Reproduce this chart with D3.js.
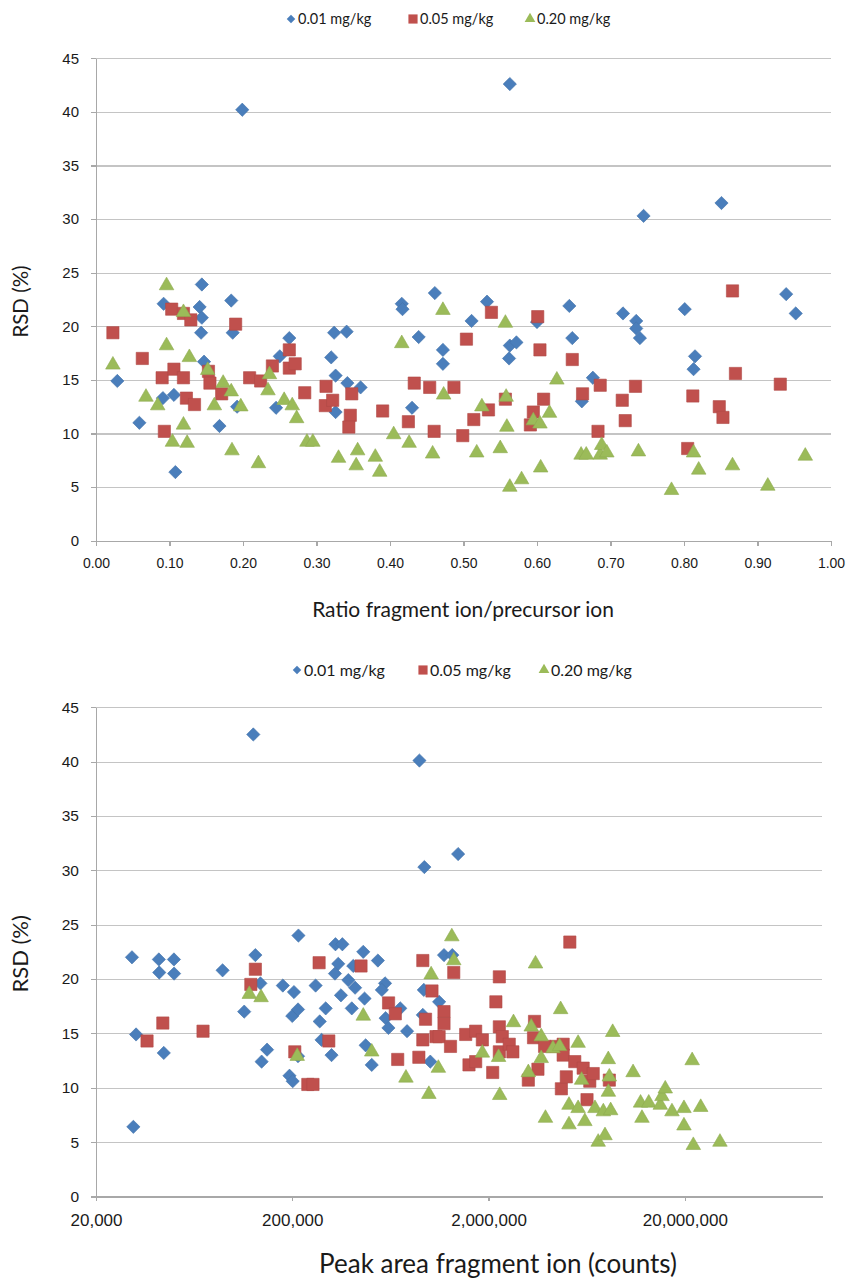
<!DOCTYPE html>
<html>
<head>
<meta charset="utf-8">
<script src="https://d3js.org/d3.v7.min.js"></script>
<style>
    body { margin: 0; background: #fff; }
    svg { display: block; }
    .grid line { stroke: #c4c4c4; stroke-width: 1.2px; shape-rendering: crispEdges; }
    .axis path, .axis line { stroke: #a8a8a8; stroke-width: 1.2px; shape-rendering: crispEdges; }
    .axis text { fill: #1a1a1a; }
    .title { fill: #1a1a1a; }
    .legend text { fill: #1a1a1a; }
</style>
</head>
<body>
<svg width="849" height="1279"></svg>
<script>
    // series names and colours
    const seriesNames = ["0.01 mg/kg", "0.05 mg/kg", "0.20 mg/kg"];
    const seriesColors = ["#4a7ebb", "#c0504d", "#9bbb59"];

    // top panel: ratio fragment ion/precursor ion vs RSD (%)
    const ratioTicks = [0, 0.1, 0.2, 0.3, 0.4, 0.5, 0.6, 0.7, 0.8, 0.9, 1.0];
    const rsdTicks = [0, 5, 10, 15, 20, 25, 30, 35, 40, 45];

    const ratio001 = [
        [0.029,14.9],[0.059,11.0],[0.092,22.1],[0.091,13.3],[0.106,13.6],[0.108,6.4],[0.144,23.9],[0.141,21.8],
        [0.144,20.8],[0.143,19.4],[0.147,16.7],[0.168,10.7],[0.184,22.4],[0.186,19.4],[0.192,12.5],[0.199,40.2],
        [0.245,12.4],[0.25,17.2],[0.263,18.9],[0.32,17.1],[0.324,19.4],[0.341,19.5],[0.326,15.4],[0.326,12.0],
        [0.342,14.7],[0.36,14.3],[0.416,22.1],[0.417,21.6],[0.439,19.0],[0.43,12.4],[0.461,23.1],[0.472,17.8],
        [0.472,16.5],[0.511,20.5],[0.532,22.3],[0.562,17.0],[0.563,18.2],[0.572,18.5],[0.563,42.6],[0.6,20.4],
        [0.644,21.9],[0.648,18.9],[0.661,13.0],[0.676,15.2],[0.717,21.2],[0.735,20.5],[0.735,19.8],[0.74,18.9],
        [0.745,30.3],[0.801,21.6],[0.813,16.0],[0.815,17.2],[0.851,31.5],[0.939,23.0],[0.952,21.2]
    ];
    const ratio005 = [
        [0.023,19.4],[0.063,17.0],[0.09,15.2],[0.093,10.2],[0.103,21.6],[0.106,16.0],[0.119,15.2],[0.119,21.2],
        [0.129,20.6],[0.123,13.3],[0.134,12.7],[0.153,15.8],[0.155,14.7],[0.171,13.7],[0.19,20.2],[0.209,15.2],
        [0.224,14.9],[0.24,16.3],[0.263,17.8],[0.263,16.1],[0.271,16.5],[0.284,13.8],[0.313,14.4],[0.312,12.6],
        [0.322,13.1],[0.348,13.7],[0.346,11.7],[0.344,10.6],[0.39,12.1],[0.425,11.1],[0.433,14.7],[0.454,14.3],
        [0.46,10.2],[0.487,14.3],[0.499,9.8],[0.504,18.8],[0.514,11.3],[0.534,12.2],[0.538,21.3],[0.557,13.2],
        [0.591,10.8],[0.595,12.0],[0.601,20.9],[0.604,17.8],[0.609,13.2],[0.648,16.9],[0.662,13.7],[0.683,10.2],
        [0.686,14.5],[0.716,13.1],[0.72,11.2],[0.734,14.4],[0.805,8.6],[0.812,13.5],[0.848,12.5],[0.853,11.5],
        [0.866,23.3],[0.87,15.6],[0.931,14.6]
    ];
    const ratio020 = [
        [0.023,16.4],[0.068,13.4],[0.084,12.6],[0.096,23.8],[0.096,18.2],[0.104,9.2],[0.119,21.3],[0.119,10.8],
        [0.124,9.1],[0.127,17.1],[0.152,15.9],[0.161,12.6],[0.173,14.7],[0.184,13.9],[0.185,8.4],[0.197,12.5],
        [0.221,7.2],[0.236,15.5],[0.234,14.0],[0.256,13.1],[0.267,12.6],[0.273,11.4],[0.287,9.2],[0.295,9.2],
        [0.33,7.7],[0.356,8.4],[0.354,7.0],[0.38,7.8],[0.386,6.4],[0.405,9.9],[0.416,18.4],[0.426,9.1],
        [0.458,8.1],[0.472,21.5],[0.473,13.6],[0.518,8.2],[0.525,12.5],[0.55,8.6],[0.557,20.3],[0.558,13.4],
        [0.559,10.6],[0.563,5.0],[0.579,5.7],[0.595,11.2],[0.604,10.9],[0.605,6.8],[0.617,11.9],[0.627,15.0],
        [0.66,8.0],[0.667,8.0],[0.686,8.0],[0.688,8.9],[0.695,8.2],[0.738,8.3],[0.783,4.7],[0.813,8.2],
        [0.82,6.6],[0.866,7.0],[0.914,5.1],[0.965,7.9]
    ];

    // bottom panel: peak area fragment ion (counts) vs RSD (%)
    const areaTicks = [20000, 200000, 2000000, 20000000];

    const area001 = [
        [30500,22.0],[32000,14.9],[31000,6.4],[41800,21.8],[49900,21.8],[42000,20.6],[50000,20.5],[44300,13.2],
        [88300,20.8],[126600,42.5],[129700,22.2],[137600,19.6],[113800,17.0],[148800,13.5],[139600,12.4],
        [179000,19.4],[204000,18.8],[200000,16.6],[214000,17.2],[193600,11.1],[201000,10.6],[214000,12.9],
        [215000,24.0],[263000,19.4],[296000,17.3],[276000,16.1],[282000,14.4],[317000,13.0],[332000,23.2],
        [360000,23.2],[343000,21.4],[330000,20.5],[409000,21.2],[386000,19.9],[418000,19.2],[354000,18.5],
        [402000,17.3],[460000,22.5],[467000,18.2],[473000,13.9],[508000,12.1],[546000,21.7],[594000,19.6],
        [572000,19.0],[710000,17.3],[598000,16.4],[618000,15.5],[769000,15.2],[889000,40.1],[942000,30.3],
        [936000,19.0],[925000,16.7],[1010000,12.4],[1186000,22.2],[1307000,22.2],[1120000,17.9],[1400000,31.5]
    ];
    const area005 = [
        [36400,14.3],[43800,15.95],[70200,15.2],[123000,19.5],[129700,20.9],[206000,13.3],[240000,10.3],
        [255000,10.3],[274000,21.5],[307000,14.3],[448000,21.2],[619000,17.8],[670000,16.8],[689000,12.6],
        [883000,12.8],[925000,21.7],[925000,14.4],[955000,16.3],[1030000,18.9],[1080000,14.7],[1186000,17.0],
        [1186000,15.9],[1120000,14.7],[1280000,13.8],[1330000,20.6],[1530000,14.9],[1720000,15.2],[1590000,12.1],
        [1720000,12.4],[1860000,14.4],[2100000,11.4],[2180000,17.9],[2270000,20.2],[2270000,15.6],[2350000,14.7],
        [2270000,13.3],[2550000,14.0],[2660000,13.3],[3190000,10.7],[3390000,14.6],[3430000,16.1],[3570000,11.7],
        [3860000,13.8],[4430000,13.8],[4700000,9.9],[4800000,14.0],[4800000,13.0],[4980000,11.0],[5190000,23.4],
        [5500000,12.4],[6070000,11.8],[6350000,8.9],[6560000,10.6],[6830000,11.3],[8250000,10.7]
    ];
    const area020 = [
        [120800,18.6],[138700,18.3],[212000,12.9],[460000,16.6],[508000,13.3],[759000,10.9],[993000,9.4],
        [1020000,20.4],[1110000,11.8],[1300000,23.9],[1330000,21.7],[1860000,13.2],[2250000,12.8],[2280000,9.3],
        [2680000,16.0],[3190000,11.4],[3300000,15.6],[3470000,21.4],[3710000,14.7],[3710000,12.7],[3900000,7.2],
        [4260000,13.6],[4600000,13.8],[4660000,17.2],[5140000,8.4],[5140000,6.6],[5720000,14.1],[5720000,8.1],
        [5960000,10.7],[6190000,6.9],[6970000,8.1],[7240000,5.0],[7690000,7.8],[7840000,5.6],[8150000,12.6],
        [8160000,9.6],[8250000,11.0],[8380000,7.9],[8580000,15.1],[10900000,11.4],[11900000,8.6],[12100000,7.2],
        [13100000,8.6],[15000000,8.4],[15300000,9.2],[15900000,9.9],[17200000,7.8],[19800000,8.1],[19800000,6.5],
        [21800000,12.5],[22100000,4.7],[24100000,8.2],[30200000,5.0]
    ];

    const FONT = "Lato, 'Open Sans', 'DejaVu Sans', sans-serif";

    // Excel-like markers: diamond (rotated square), square, triangle
    const markers = [
        {type: d3.symbolSquare, size: 88, rotate: 45},
        {type: d3.symbolSquare, size: 150, rotate: 0},
        {type: d3.symbolTriangle, size: 92, rotate: 0}
    ];
    const legendMarkers = [
        {type: d3.symbolSquare, size: 36, rotate: 45},
        {type: d3.symbolSquare, size: 84, rotate: 0},
        {type: d3.symbolTriangle, size: 50, rotate: 0}
    ];

    const svg = d3.select("svg").style("font-family", FONT);

    function drawPanel(opt) {
        const g = svg.append("g");
        const x = opt.x;
        const y = d3.scaleLinear().domain([0, 45]).range([opt.bottom, opt.top]);

        // horizontal grid
        g.append("g")
            .attr("class", "grid")
            .attr("transform", `translate(${opt.left},0)`)
            .call(d3.axisLeft(y).tickValues(rsdTicks.slice(1)).tickSize(-(opt.right - opt.left)).tickFormat(""))
            .call(s => s.select(".domain").remove());

        // y axis
        g.append("g")
            .attr("class", "axis")
            .attr("transform", `translate(${opt.left},0)`)
            .call(d3.axisLeft(y).tickValues(rsdTicks).tickSize(5).tickSizeOuter(0).tickPadding(12))
            .call(s => s.selectAll("text").style("font-size", opt.yTickFont + "px"));

        // x axis
        g.append("g")
            .attr("class", "axis")
            .attr("transform", `translate(0,${opt.bottom})`)
            .call(d3.axisBottom(x).tickValues(opt.xTicks).tickFormat(opt.xFormat)
                .tickSize(5).tickSizeOuter(0).tickPadding(opt.xTickPad))
            .call(s => s.selectAll("text").style("font-size", opt.xTickFont + "px"));

        // points
        opt.series.forEach((data, i) => {
            const m = markers[i];
            g.append("g").selectAll("path")
                .data(data)
                .join("path")
                .attr("d", d3.symbol().type(m.type).size(m.size))
                .attr("transform", d => `translate(${x(d[0])},${y(d[1])}) rotate(${m.rotate})`)
                .attr("fill", seriesColors[i])
                .attr("stroke", d3.color(seriesColors[i]).darker(0.25))
                .attr("stroke-width", 0.6);
        });

        // axis titles
        g.append("text")
            .attr("class", "title")
            .attr("x", opt.xTitleX)
            .attr("y", opt.xTitleY)
            .attr("text-anchor", "middle")
            .style("font-size", opt.xTitleFont + "px")
            .text(opt.xTitle);

        g.append("text")
            .attr("class", "title")
            .attr("transform", `translate(28,${(opt.top + opt.bottom) / 2 + 2}) rotate(-90)`)
            .attr("text-anchor", "middle")
            .style("font-size", opt.yTitleFont + "px")
            .text("RSD (%)");

        // legend
        const legend = g.append("g").attr("class", "legend");
        seriesNames.forEach((name, i) => {
            const cx = opt.legendX[i];
            const m = legendMarkers[i];
            legend.append("path")
                .attr("d", d3.symbol().type(m.type).size(m.size))
                .attr("transform", `translate(${cx},${opt.legendY}) rotate(${m.rotate})`)
                .attr("fill", seriesColors[i]);
            legend.append("text")
                .attr("x", cx + 7)
                .attr("y", opt.legendY)
                .attr("dy", "0.35em")
                .style("font-size", opt.legendFont + "px")
                .text(name);
        });
    }

    drawPanel({
        left: 96, right: 831, top: 58.3, bottom: 540.7,
        x: d3.scaleLinear().domain([0, 1]).range([96, 831]),
        xTicks: ratioTicks,
        xFormat: d3.format(".2f"),
        xTickFont: 14, xTickPad: 12, yTickFont: 15,
        series: [ratio001, ratio005, ratio020],
        xTitle: "Ratio fragment ion/precursor ion",
        xTitleX: 463, xTitleY: 617, xTitleFont: 21, yTitleFont: 20.5,
        legendX: [291, 413, 530], legendY: 19, legendFont: 14.5
    });

    drawPanel({
        left: 96, right: 822, top: 707.3, bottom: 1196.4,
        x: d3.scaleLog().domain([20000, 1e8]).range([96, 822]),
        xTicks: areaTicks,
        xFormat: d3.format(","),
        xTickFont: 17, xTickPad: 13, yTickFont: 15.5,
        series: [area001, area005, area020],
        xTitle: "Peak area fragment ion (counts)",
        xTitleX: 498, xTitleY: 1273, xTitleFont: 26, yTitleFont: 22,
        legendX: [297, 423, 544], legendY: 670, legendFont: 16
    });
</script>
</body>
</html>
